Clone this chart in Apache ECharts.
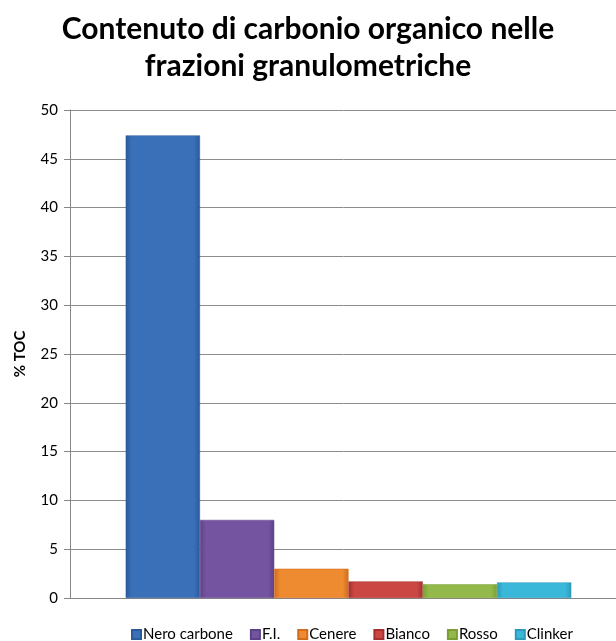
<!DOCTYPE html>
<html><head><meta charset="utf-8">
<script src="https://cdn.jsdelivr.net/npm/echarts@6/dist/echarts.min.js"></script>
<style>html,body{margin:0;padding:0;background:#fff}#c{width:616px;height:641px}</style>
</head><body><div id="c"></div>
<script>
const seriesNames = ['Nero carbone','F.I.','Cenere','Bianco','Rosso','Clinker'];
const seriesValues = [47.4, 8.0, 3.0, 1.7, 1.4, 1.6];
const yTicks = [0,5,10,15,20,25,30,35,40,45,50];
const colors = [
  ['#2a5a99','#3a70b8'],
  ['#5e4287','#7453a0'],
  ['#d06d1c','#ee8a30'],
  ['#a5302f','#cb4744'],
  ['#7a9e33','#93b94a'],
  ['#2c9ab8','#3ab8da']
];
const chart = echarts.init(document.getElementById('c'));
const FONT = 'Lato';
chart.setOption({
  animation:false,
  title:{text:'Contenuto di carbonio organico nelle\nfrazioni granulometriche',left:'center',top:6,
    textStyle:{fontFamily:FONT,fontSize:30,fontWeight:'bold',color:'#000',lineHeight:37}},
  legend:{top:622,left:126,itemWidth:9,itemHeight:9,itemGap:17,icon:'rect',
    textStyle:{fontFamily:FONT,fontSize:15,color:'#000',padding:[0,0,0,-3]},data:seriesNames},
  grid:{left:70,top:110,width:557,height:488,outerBoundsMode:'none'},
  xAxis:{type:'category',data:[''],axisTick:{show:false},axisLabel:{show:false},
    axisLine:{lineStyle:{color:'#868686'}}},
  yAxis:{type:'value',min:yTicks[0],max:yTicks[yTicks.length-1],interval:5,
    name:'% TOC',nameLocation:'middle',nameGap:42,
    nameTextStyle:{fontFamily:FONT,fontSize:15,fontWeight:'bold',color:'#000'},
    axisLine:{show:true,lineStyle:{color:'#868686'}},
    axisTick:{show:true,length:6,lineStyle:{color:'#868686'}},
    axisLabel:{fontFamily:FONT,fontSize:15,color:'#000',margin:12},
    splitLine:{lineStyle:{color:'#8c8c8c'}}},
  series: seriesNames.map((n,i)=>({
    name:n,type:'bar',data:[seriesValues[i]],barGap:'0%',barCategoryGap:'20%',
    itemStyle:{
      color:{type:'linear',x:0,y:0,x2:1,y2:0,colorStops:[
        {offset:0,color:colors[i][0]},{offset:0.08,color:colors[i][1]},
        {offset:0.92,color:colors[i][1]},{offset:1,color:colors[i][0]}]},
      borderColor:colors[i][0],borderWidth:0.5
    }
  }))
});
</script></body></html>
